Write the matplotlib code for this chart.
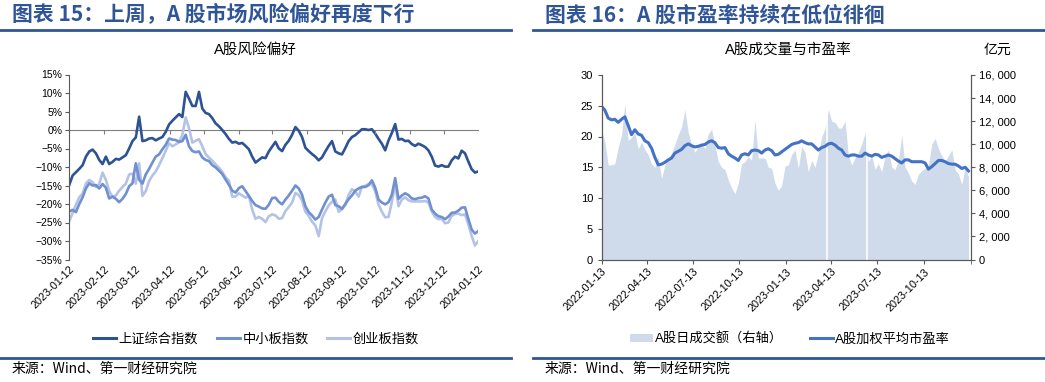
import pandas as pd
import matplotlib
matplotlib.use('Agg')
import matplotlib.pyplot as plt
import matplotlib.dates as mdates
from matplotlib.ticker import FuncFormatter, MultipleLocator
from matplotlib.lines import Line2D
from matplotlib.patches import Patch

plt.rcParams['font.family'] = ['Liberation Sans', 'Noto Sans CJK SC']
plt.rcParams['axes.unicode_minus'] = True

# ---------------- data: 图表15 (weekly-ish samples, 2023-01-12 .. 2024-01-12) ----------------
risk_start, risk_end = '2023-01-12', '2024-01-12'
sh_composite = [
    -14.8, -12.3, -11.4, -10.5, -9.5, -7.2, -5.8, -5.3, -6.3, -8.1, -9.2, -7.2, -9.2, -8.6, -7.8, -8.0,
    -7.4, -6.8, -5.0, -3.0, -2.0, 3.6, -3.0, -2.8, -2.3, -2.2, -2.8, -2.3, -1.9, -0.5, 1.5, 2.5,
    3.4, 4.3, 3.5, 10.3, 8.5, 6.5, 6.5, 10.3, 5.8, 4.6, 4.3, 3.2, 1.8, 1.0, 0.0, -1.1,
    -2.4, -3.4, -3.2, -3.7, -3.5, -4.3, -5.2, -7.2, -8.8, -8.1, -7.4, -7.6, -5.8,
    -4.5, -3.2, -5.0, -5.7, -4.0, -2.9, -1.3, 0.8, -0.2, -1.9, -4.8, -5.7, -6.5, -7.2, -8.2, -7.4,
    -5.8, -4.3, -3.0, -5.8, -6.3, -6.6, -4.9, -3.0, -1.9, -1.4, -0.6, 0.2, 0.2, 0.0, 0.2, -1.0,
    -2.4, -3.7, -5.5, -2.8, -0.8, 1.6, -2.6, -2.4, -3.0, -2.9, -3.8, -4.3, -3.7, -4.1, -4.6, -5.5,
    -7.2, -9.6, -9.9, -9.5, -9.9, -9.9, -8.2, -7.2, -7.7, -5.6, -6.3, -8.5, -10.6, -11.5, -11.2,
]
sme_board = [
    -22.0, -21.6, -22.2, -20.0, -18.2, -15.8, -14.4, -15.0, -14.9, -15.8, -14.6, -15.6, -18.5, -18.0, -18.6, -19.5,
    -18.6, -17.3, -15.2, -14.4, -9.0, -13.4, -14.5, -12.0, -10.5, -8.8, -7.2, -6.6, -5.2, -4.0, -2.3, -2.6,
    -2.7, -3.2, -3.0, -1.3, -4.4, -5.7, -6.0, -5.8, -7.4, -8.1, -8.4, -9.5, -10.1, -11.0, -11.9, -13.4,
    -14.8, -16.4, -16.9, -15.7, -15.2, -16.5, -17.8, -19.2, -20.3, -20.7, -21.2, -21.3, -20.2,
    -18.4, -18.3, -19.4, -20.1, -18.8, -17.7, -16.4, -15.0, -15.8, -17.5, -20.6, -22.2, -23.1, -24.2, -23.5, -21.5,
    -19.6, -18.0, -17.5, -20.3, -20.6, -21.3, -20.0, -18.7, -17.7, -16.4, -15.8, -15.4, -15.4, -14.9, -13.6, -15.6,
    -18.8, -19.6, -20.1, -19.5, -17.5, -13.0, -18.6, -17.7, -17.1, -17.6, -18.5, -18.7, -18.4, -18.3, -17.9, -18.5,
    -21.5, -22.6, -23.3, -23.5, -24.1, -23.4, -22.4, -22.3, -21.8, -21.0, -20.9, -24.0, -26.9, -28.0, -27.3,
]
chinext = [
    -24.6, -22.4, -20.2, -18.2, -17.2, -14.5, -13.5, -14.1, -15.4, -14.6, -11.5, -13.5, -16.5, -18.1, -17.7, -16.4,
    -15.4, -14.5, -12.0, -11.8, -14.5, -9.0, -17.8, -16.5, -13.8, -12.3, -11.2, -9.5, -7.6, -5.6, -3.6, -4.4,
    -3.9, -3.3, -1.3, 3.4, 0.5, -3.4, -2.9, -2.5, -4.4, -6.5, -7.5, -8.3, -9.3, -10.2, -11.3, -12.8,
    -13.7, -18.0, -18.0, -17.1, -17.7, -18.3, -17.8, -21.5, -24.0, -23.5, -24.0, -24.9, -23.3,
    -22.8, -23.1, -24.0, -23.8, -21.9, -20.8, -19.6, -17.0, -17.6, -19.0, -22.1, -23.2, -24.8, -25.8, -28.7, -23.8,
    -22.0, -20.4, -19.4, -18.8, -22.1, -21.4, -20.3, -17.6, -16.0, -16.6, -18.0, -15.3, -15.1, -14.6, -14.6, -16.6,
    -20.2, -22.1, -23.6, -23.5, -19.5, -14.5, -20.6, -18.8, -18.2, -19.0, -19.3, -19.3, -19.3, -19.3, -19.2, -19.6,
    -22.0, -23.5, -24.1, -24.0, -25.2, -25.0, -23.2, -22.7, -22.6, -23.0, -22.8, -25.5, -28.6, -31.2, -30.0,
]
risk_ticks = pd.date_range('2023-01-01', '2024-01-01', freq='MS') + pd.Timedelta(days=11)

# ---------------- data: 图表16 (2022-01-13 .. 2024-01-09) ----------------
pe_start, pe_end = '2022-01-13', '2024-01-09'
pe_ratio = [
    24.9, 24.3, 23.0, 22.7, 22.8, 22.3, 22.8, 23.2, 21.8, 20.3, 21.1, 20.4, 20.2, 19.3, 19.0, 18.1,
    16.6, 15.4, 15.5, 15.8, 16.2, 16.5, 17.3, 17.6, 17.9, 18.5, 18.8, 18.5, 18.3, 18.4, 18.6, 18.7,
    19.1, 19.3, 19.0, 18.2, 18.1, 18.2, 17.2, 16.8, 16.5, 16.1, 17.0, 17.2, 17.0, 17.7, 17.8, 17.7,
    17.3, 17.8, 18.0, 17.7, 17.0, 17.1, 17.5, 17.9,
    18.3, 18.7, 18.9, 19.0, 19.3, 19.0, 18.8, 18.8, 18.3, 17.8, 18.2, 18.4, 18.8, 18.9, 18.6, 18.1,
    17.8, 17.0, 16.8, 17.0, 17.0, 16.8, 16.8, 17.3, 17.0, 16.8, 17.1, 17.0, 16.6, 16.8, 17.0, 16.8,
    16.4, 16.0, 15.7, 16.2, 16.2, 15.9, 15.9, 15.9, 15.9, 15.7, 14.7, 15.1, 15.6, 16.1, 16.1, 15.9,
    15.6, 15.5, 15.5, 15.2, 14.8, 15.0, 14.4,
]
turnover = [
    11200, 10200, 8200, 8200, 8300, 9700, 10800, 13500, 10300, 10600, 11000, 9600, 10200, 9500, 9100, 8300,
    8000, 8900, 7000, 8200, 8700, 9200, 10000, 10800, 11500, 13000, 11000, 10000, 9300, 9800, 10100, 9600,
    10900, 11300, 9900, 8500, 8000, 7800, 6900, 6200, 5700, 6600, 8300, 8500, 8900, 8600, 12100, 8800,
    8800, 8800, 8000, 7900, 6600, 6000, 6400, 8100,
    8200, 9100, 9500, 7900, 9800, 9300, 7600, 8600, 8000, 9200, 10600, 11400, 13000, 12000, 11900, 11400,
    11400, 12000, 9000, 8200, 8800, 9300, 10000, 11000, 8500, 9000, 7800, 8300, 7600, 9000, 9500, 8000,
    7800, 8600, 10800, 8000, 7500, 6800, 6500, 7400, 7700, 7900, 8200, 10000, 10500, 9600, 9000, 8500,
    9000, 9500, 7800, 7400, 6500, 8000, 7200,
]
turnover_gaps = ['2023-04-05', '2023-06-23']  # 无成交数据的交易日
pe_ticks = pd.date_range('2022-01-01', '2023-10-01', freq='3MS') + pd.Timedelta(days=12)

# ---------------- styles ----------------
TITLE_BLUE = '#2F5597'
C_SH, C_SME, C_GEM = '#2E5395', '#7090CF', '#B4C3E5'
C_PE, C_VOL = '#4472C4', '#CFDAEB'
AX_GRAY = '#595959'

W, H = 1045, 382
fig = plt.figure(figsize=(W / 100, H / 100), dpi=100)


def fx(px):
    return px / W


def fy(py):
    return 1 - py / H


def pct_fmt(v, _):
    return f'{v:.0f}%'.replace('-', '\u2212')


# frame pieces: titles, rules, subtitles, sources
for x0, x1, title in [(0, 511, '图表 15：上周，A 股市场风险偏好再度下行'),
                      (533, 1045, '图表 16：A 股市盈率持续在低位徘徊')]:
    fig.text(fx(x0 + 12), fy(15), title, fontsize=15, fontweight='bold', color=TITLE_BLUE,
             family=['Noto Sans CJK SC'], va='center', ha='left')
    fig.add_artist(Line2D([fx(x0), fx(x1)], [fy(29.5), fy(29.5)], color=TITLE_BLUE, lw=2))
    fig.add_artist(Line2D([fx(x0), fx(x1)], [fy(357.5), fy(357.5)], color=TITLE_BLUE, lw=2))
    fig.text(fx(x0 + 12), fy(369), '来源：Wind、第一财经研究院', fontsize=10, color='black',
             family=['Noto Sans CJK SC'], va='center', ha='left')

fig.text(fx(255), fy(50), 'A股风险偏好', fontsize=10.5, ha='center', va='center')
fig.text(fx(788), fy(50), 'A股成交量与市盈率', fontsize=10.5, ha='center', va='center')
fig.text(fx(997), fy(50), '亿元', fontsize=10, ha='center', va='center')

# ---------------- left chart ----------------
ax1 = fig.add_axes([fx(69.3), fy(259.5), fx(478.3 - 69.3), (259.5 - 74.5) / H])
d1 = pd.date_range(risk_start, risk_end, periods=len(sh_composite))
ax1.plot(pd.date_range(risk_start, risk_end, periods=len(chinext)), chinext, color=C_GEM, lw=1.9, label='创业板指数')
ax1.plot(pd.date_range(risk_start, risk_end, periods=len(sme_board)), sme_board, color=C_SME, lw=1.9, label='中小板指数')
ax1.plot(d1, sh_composite, color=C_SH, lw=1.9, label='上证综合指数')
ax1.set_ylim(-35, 15)
ax1.set_xlim(pd.Timestamp(risk_start), pd.Timestamp(risk_end))
ax1.yaxis.set_major_locator(MultipleLocator(5))
ax1.yaxis.set_major_formatter(FuncFormatter(pct_fmt))
for s in ['top', 'right', 'bottom']:
    ax1.spines[s].set_visible(False)
ax1.spines['left'].set_color(AX_GRAY)
ax1.tick_params(axis='y', direction='out', length=3, color=AX_GRAY, labelsize=7.5, pad=2)
ax1.set_xticks(risk_ticks)
ax1.xaxis.set_major_formatter(mdates.DateFormatter('%Y-%m-%d'))
ax1.tick_params(axis='x', length=0, labelsize=7.8, pad=3)
plt.setp(ax1.get_xticklabels(), rotation=45, ha='right', rotation_mode='anchor')
# category axis crossing at 0%
zero_axis = ax1.secondary_xaxis((0 - (-35)) / 50)
zero_axis.set_xticks(risk_ticks)
zero_axis.tick_params(axis='x', direction='in', length=0, labelbottom=False, labeltop=False)
zero_axis.spines['top'].set_color('#7F7F7F')
zero_axis.spines['bottom'].set_color('#7F7F7F')
ax1.vlines(risk_ticks, -1.0, 0, color='#7F7F7F', lw=0.8)

h = [Line2D([], [], color=C_SH, lw=2.2), Line2D([], [], color=C_SME, lw=2.2), Line2D([], [], color=C_GEM, lw=2.2)]
fig.legend(h, ['上证综合指数', '中小板指数', '创业板指数'], loc='center', bbox_to_anchor=(fx(256), fy(339)),
           ncol=3, frameon=False, fontsize=9.5, handlelength=1.75, handletextpad=0.2, columnspacing=1.4)

# ---------------- right chart ----------------
ax2 = fig.add_axes([fx(601.5), fy(259.5), fx(970.5 - 601.5), (259.5 - 75) / H])
ax3 = ax2.twinx()
d2 = pd.date_range(pe_start, pe_end, periods=len(pe_ratio))
d3 = pd.date_range(pe_start, pe_end, periods=len(turnover))
ax3.fill_between(d3, turnover, 0, color=C_VOL, lw=0)
for g in turnover_gaps:
    ax3.axvline(pd.Timestamp(g), color='white', lw=1.2)
ax2.set_zorder(ax3.get_zorder() + 1)
ax2.patch.set_visible(False)
ax2.plot(d2, pe_ratio, color=C_PE, lw=2.2)
ax2.set_ylim(0, 30)
ax3.set_ylim(0, 16000)
ax2.set_xlim(pd.Timestamp('2022-01-13'), pd.Timestamp('2024-01-13'))
ax2.yaxis.set_major_locator(MultipleLocator(5))
ax3.yaxis.set_major_locator(MultipleLocator(2000))
ax3.yaxis.set_major_formatter(FuncFormatter(lambda v, _: f'{v:,.0f}'.replace(',', ', ')))
for a in (ax2, ax3):
    a.spines['top'].set_visible(False)
    for s in ['left', 'right', 'bottom']:
        a.spines[s].set_color(AX_GRAY)
ax2.tick_params(axis='y', direction='out', length=3, color=AX_GRAY, labelsize=8, pad=3)
ax3.tick_params(axis='y', direction='out', length=3, color=AX_GRAY, labelsize=8, pad=3)
ax2.set_xticks(pe_ticks)
ax2.set_xticks([pd.Timestamp('2024-01-13')], minor=True)
ax2.xaxis.set_major_formatter(mdates.DateFormatter('%Y-%m-%d'))
ax2.tick_params(axis='x', which='both', direction='out', length=3, color=AX_GRAY, labelsize=7.8, pad=2)
plt.setp(ax2.get_xticklabels(), rotation=45, ha='right', rotation_mode='anchor')

h2 = [Patch(facecolor=C_VOL, edgecolor='none'), Line2D([], [], color=C_PE, lw=2.2)]
fig.legend(h2, ['A股日成交额（右轴）', 'A股加权平均市盈率'], loc='center', bbox_to_anchor=(fx(790), fy(339)),
           ncol=2, frameon=False, fontsize=9.5, handlelength=1.75, handleheight=0.5, handletextpad=0.15,
           columnspacing=2.0)

fig.savefig('out.png', dpi=100)
